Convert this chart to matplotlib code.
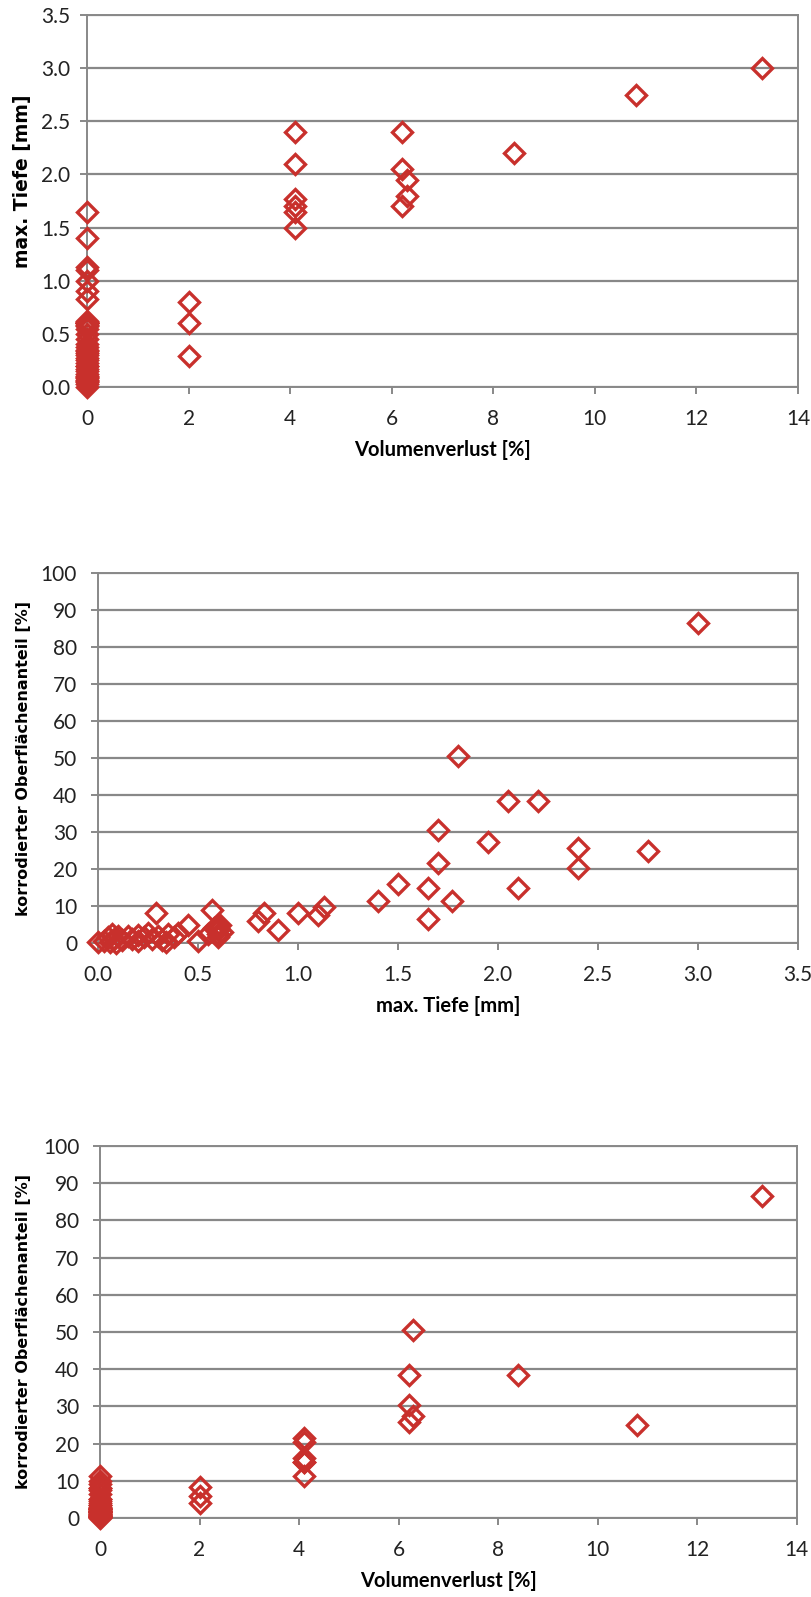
import numpy as np
import matplotlib
matplotlib.use("Agg")
import matplotlib.pyplot as plt
from matplotlib.ticker import FormatStrFormatter, MultipleLocator

# Messdaten (je Probe: Volumenverlust, max. Tiefe, korrodierter Oberflächenanteil)
volumenverlust = [
    0, 0, 0, 0, 0, 0, 0,
    0, 0, 0, 0, 0, 0, 0, 0, 0, 0, 0, 0, 0, 0, 0, 0, 0, 0, 0,
    0, 0, 0, 0, 0, 0, 0, 0, 0, 0, 0, 0, 0, 0,
    2.0, 2.0, 2.0,
    4.1, 4.1, 4.1, 4.1, 4.1, 4.1,
    6.2, 6.2, 6.2, 6.3, 6.3,
    8.4, 10.8, 13.3,
]
max_tiefe = [
    1.65, 1.4, 1.13, 1.1, 1.0, 0.9, 0.83,
    0.0, 0.03, 0.05, 0.06, 0.07, 0.08, 0.09, 0.1, 0.12, 0.15, 0.17, 0.2, 0.2,
    0.23, 0.25, 0.27, 0.3, 0.32, 0.34, 0.35, 0.38, 0.4, 0.45, 0.5, 0.55, 0.57,
    0.58, 0.6, 0.6, 0.6, 0.6, 0.61, 0.62,
    0.8, 0.6, 0.29,
    2.4, 2.1, 1.77, 1.7, 1.65, 1.5,
    2.4, 2.05, 1.7, 1.95, 1.8,
    2.2, 2.75, 3.0,
]
oberflaeche = [
    6.5, 11.3, 9.8, 7.5, 8.0, 3.5, 8.0,
    0.3, 0.5, 1.5, 0.2, 2.5, 1.0, 0.0, 1.8, 0.8, 2.0, 1.2, 0.5, 2.2,
    1.5, 2.8, 1.0, 2.0, 0.8, 0.2, 2.5, 1.5, 2.8, 5.0, 0.5, 2.5, 9.0,
    4.0, 1.5, 2.5, 3.5, 4.5, 5.0, 3.0,
    6.0, 4.0, 8.2,
    20.3, 15.0, 11.3, 21.5, 15.0, 16.0,
    25.8, 38.3, 30.5, 27.3, 50.5,
    38.3, 25.0, 86.5,
]

RED = "#C8302C"
GRID = "#888888"

fig = plt.figure(figsize=(8.11, 15.97), dpi=100)

panels = [
    # x, y, xlabel, ylabel, xlim, ylim, xstep, ystep, xfmt, yfmt, rect, ylabel pos, ylabel size, ytick pad
    (volumenverlust, max_tiefe, "Volumenverlust [%]", "max. Tiefe [mm]",
     (0, 14), (0, 3.5), 2, 0.5, "%d", "%.1f", [0.1073, 0.7577, 0.8767, 0.2329],
     (-0.077, 0.554), 13.5, 7),
    (max_tiefe, oberflaeche, "max. Tiefe [mm]", "korrodierter Oberflächenanteil [%]",
     (0, 3.5), (0, 100), 0.5, 10, "%.1f", "%d", [0.1208, 0.4095, 0.8631, 0.2317],
     (-0.096, 0.5), 11.5, 10),
    (volumenverlust, oberflaeche, "Volumenverlust [%]", "korrodierter Oberflächenanteil [%]",
     (0, 14), (0, 100), 2, 10, "%d", "%d", [0.1233, 0.0495, 0.859, 0.2329],
     (-0.099, 0.5), 11.5, 10),
]

for x, y, xl, yl, xlim, ylim, xs, ys, xf, yf, rect, ypos, ysize, ypad in panels:
    ax = fig.add_axes(rect)
    ax.plot(x, y, linestyle="none", marker="D", markersize=10.5,
            markerfacecolor="none", markeredgecolor=RED, markeredgewidth=2.4,
            clip_on=False, zorder=3)
    ax.set_xlim(*xlim)
    ax.set_ylim(*ylim)
    ax.xaxis.set_major_locator(MultipleLocator(xs))
    ax.yaxis.set_major_locator(MultipleLocator(ys))
    ax.xaxis.set_major_formatter(FormatStrFormatter(xf))
    ax.yaxis.set_major_formatter(FormatStrFormatter(yf))
    ax.grid(axis="y", color=GRID, linewidth=1.6)
    ax.set_axisbelow(True)
    for s in ax.spines.values():
        s.set_color(GRID)
        s.set_linewidth(1.4)
    ax.tick_params(axis="both", direction="out", length=5, width=1.4,
                   color=GRID, labelsize=15, labelcolor="#222222")
    ax.tick_params(axis="x", pad=11)
    ax.tick_params(axis="y", pad=ypad)
    for lab in ax.get_xticklabels() + ax.get_yticklabels():
        lab.set_family("Lato")
    ax.set_xlabel(xl, family="Lato", fontweight="bold", fontsize=14.5, labelpad=8)
    ax.set_ylabel(yl, family="DejaVu Sans", fontweight="bold", fontsize=ysize)
    ax.yaxis.set_label_coords(*ypos)

fig.savefig("out.png", dpi=100)
